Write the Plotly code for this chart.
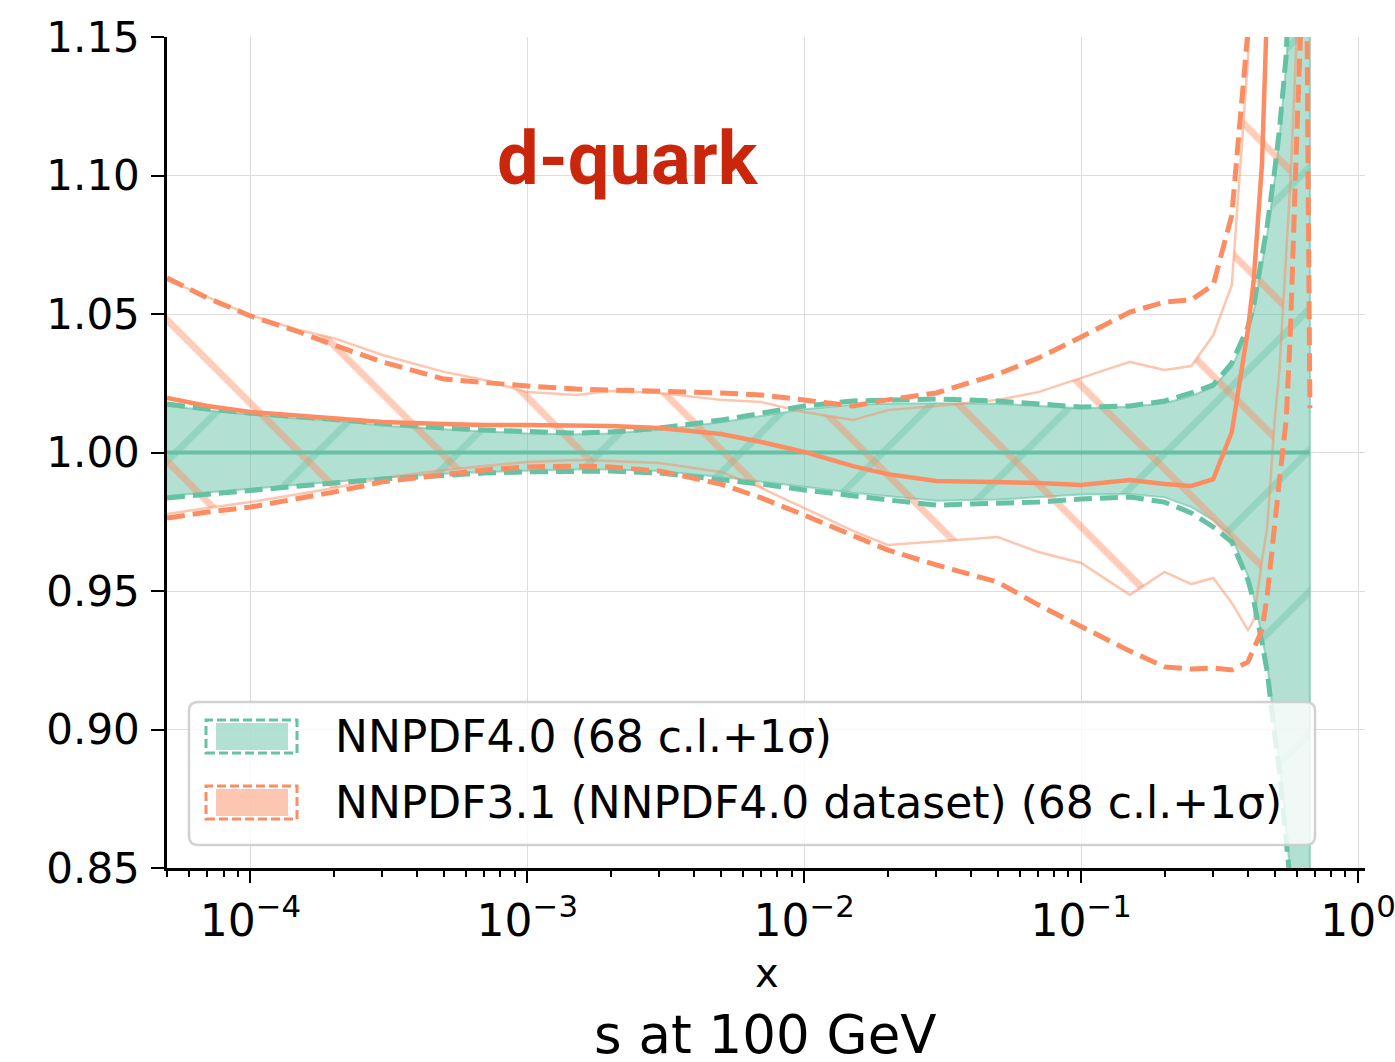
import math
import plotly.graph_objects as go

# ---------------- data ----------------
x = [5e-5, 7e-5, 1e-4, 1.5e-4, 2e-4, 3e-4, 5e-4, 7e-4, 1e-3, 1.5e-3, 2e-3, 3e-3, 5e-3, 7e-3,
     1e-2, 1.5e-2, 2e-2, 3e-2, 5e-2, 7e-2, 0.1, 0.15, 0.2, 0.25, 0.3, 0.35, 0.4, 0.42, 0.45,
     0.47, 0.5, 0.52, 0.55, 0.57, 0.6, 0.62, 0.65, 0.66, 0.67]

nn40_cv_x = [5e-5, 0.67]
nn40_cv = [1.0, 1.0]

nn40_1s_up = [1.0175, 1.0157, 1.0143, 1.0128, 1.0121, 1.0103, 1.0088, 1.0081, 1.0074, 1.0070, 1.0074,
              1.0088, 1.0117, 1.0143, 1.0168, 1.0186, 1.0190, 1.0193, 1.0186, 1.0175, 1.0164, 1.0168,
              1.0186, 1.0215, 1.0244, 1.0323, 1.0453, 1.0532, 1.0702, 1.0821, 1.1020, 1.1164, 1.1435,
              1.17, 1.22, 1.27, 1.35, 1.38, 1.40]
nn40_1s_dn = [0.9836, 0.9850, 0.9865, 0.9879, 0.9890, 0.9904, 0.9919, 0.9926, 0.9930, 0.9933, 0.9933,
              0.9926, 0.9904, 0.9886, 0.9865, 0.9843, 0.9829, 0.9810, 0.9814, 0.9821, 0.9832, 0.9839,
              0.9821, 0.9782, 0.9731, 0.9677, 0.9540, 0.9464, 0.9312, 0.9208, 0.8980, 0.8854, 0.8601,
              0.8457, 0.83, 0.815, 0.79, 0.78, 0.77]
nn40_cl_up = [1.0168, 1.0152, 1.0136, 1.0122, 1.0116, 1.0097, 1.0083, 1.0076, 1.0069, 1.0066, 1.0069,
              1.0082, 1.0109, 1.0133, 1.0156, 1.0172, 1.0176, 1.0178, 1.0176, 1.0168, 1.0160, 1.0165,
              1.0178, 1.0204, 1.0236, 1.0309, 1.0435, 1.0510, 1.0675, 1.0790, 1.0985, 1.1130, 1.1400,
              1.165, 1.215, 1.26, 1.34, 1.37, 1.39]
nn40_cl_dn = [0.9843, 0.9856, 0.9871, 0.9884, 0.9894, 0.9909, 0.9923, 0.9930, 0.9935, 0.9939, 0.9939,
              0.9933, 0.9912, 0.9895, 0.9876, 0.9855, 0.9842, 0.9826, 0.9830, 0.9838, 0.9848, 0.9850,
              0.9838, 0.9803, 0.9756, 0.9695, 0.9555, 0.9480, 0.9335, 0.9235, 0.9010, 0.8885, 0.8630,
              0.848, 0.832, 0.817, 0.792, 0.782, 0.772]

nn31_cv = [1.0197, 1.0168, 1.0146, 1.0132, 1.0121, 1.0110, 1.0103, 1.0099, 1.0099, 1.0097, 1.0096,
           1.0088, 1.0067, 1.0038, 1.0002, 0.9951, 0.9922, 0.9897, 0.9894, 0.9890, 0.9883, 0.9901,
           0.9886, 0.9879, 0.9904, 1.0074, 1.0442, 1.0623, 1.1045, 1.1490, 1.25, 1.30, 1.40,
           1.45, 1.50, 1.55, 1.60, 1.60, 1.60]
nn31_1s_up = [1.0630, 1.0558, 1.0493, 1.0435, 1.0388, 1.0327, 1.0265, 1.0251, 1.0240, 1.0229, 1.0226,
              1.0218, 1.0215, 1.0208, 1.0190, 1.0168, 1.0190, 1.0215, 1.0283, 1.0341, 1.0417, 1.0507,
              1.0543, 1.0551, 1.0605, 1.0857, 1.1520, 1.20, 1.30, 1.35, 1.45, 1.50, 1.55,
              1.55, 1.50, 1.40, 1.20, 1.10, 1.016]
nn31_1s_dn = [0.9763, 0.9785, 0.9803, 0.9832, 0.9857, 0.9894, 0.9922, 0.9937, 0.9948, 0.9951, 0.9948,
              0.9933, 0.9886, 0.9836, 0.9774, 0.9699, 0.9648, 0.9594, 0.9532, 0.9450, 0.9370, 0.9283,
              0.9226, 0.9218, 0.9222, 0.9215, 0.9244, 0.9294, 0.9359, 0.9486, 0.9756, 0.9900, 1.0117,
              1.0442, 1.1128, 1.1520, 1.30, 1.35, 1.40]
nn31_cl_up = [1.0623, 1.0561, 1.0496, 1.0442, 1.0413, 1.0352, 1.0291, 1.0262, 1.0218, 1.0208, 1.0222,
              1.0215, 1.0190, 1.0182, 1.0146, 1.0117, 1.0153, 1.0168, 1.0190, 1.0218, 1.0269, 1.0327,
              1.0298, 1.0312, 1.0424, 1.0605, 1.1417, 1.19, 1.28, 1.33, 1.40, 1.45, 1.50,
              1.50, 1.45, 1.40, 1.30, 1.25, 1.20]
nn31_cl_dn = [0.9778, 0.9800, 0.9821, 0.9850, 0.9872, 0.9908, 0.9937, 0.9951, 0.9966, 0.9973, 0.9969,
              0.9962, 0.9930, 0.9872, 0.9800, 0.9717, 0.9666, 0.9680, 0.9695, 0.9641, 0.9601, 0.9486,
              0.9569, 0.9525, 0.9547, 0.9457, 0.9359, 0.9395, 0.9612, 0.9731, 1.0117, 1.0298, 1.0731,
              1.0984, 1.15, 1.20, 1.30, 1.32, 1.35]

x_tickvals = [1e-4, 1e-3, 1e-2, 1e-1, 1e0]
x_ticktext = ["10<sup>\u22124</sup>", "10<sup>\u22123</sup>", "10<sup>\u22122</sup>",
              "10<sup>\u22121</sup>", "10<sup>0</sup>"]
x_minor = [m * 10.0 ** e for e in range(-5, 0) for m in range(2, 10)]
y_tickvals = [0.85, 0.90, 0.95, 1.00, 1.05, 1.10, 1.15]

labels = ["NNPDF4.0 (68 c.l.+1\u03c3)", "NNPDF3.1 (NNPDF4.0 dataset) (68 c.l.+1\u03c3)"]
title_text = "d-quark"

# ---------------- style ----------------
TEAL = "#66c2a5"
ORANGE = "#fc8d62"
W, H = 1395, 1062
L, R, T, B = 167, 1365, 37, 868
FONT = "DejaVu Sans"


def px(xp):
    return (xp - L) / (R - L)


def py(yp):
    return (B - yp) / (B - T)


fig = go.Figure()

# NNPDF4.0 68 c.l. band (filled + hatched)
fig.add_trace(go.Scatter(
    x=x + x[::-1], y=nn40_cl_up + nn40_cl_dn[::-1], mode="lines", fill="toself",
    fillcolor="rgba(102,194,165,0.5)",
    fillpattern=dict(shape="/", size=100, solidity=0.07, fgcolor=TEAL, fgopacity=0.4,
                     bgcolor="rgba(102,194,165,0.5)"),
    line=dict(color="rgba(102,194,165,0.6)", width=2), hoverinfo="skip"))

# NNPDF3.1 68 c.l. band (hatched only)
fig.add_trace(go.Scatter(
    x=x + x[::-1], y=nn31_cl_up + nn31_cl_dn[::-1], mode="lines", fill="toself",
    fillcolor="rgba(0,0,0,0)",
    fillpattern=dict(shape="\\", size=100, solidity=0.07, fgcolor=ORANGE, fgopacity=0.45,
                     bgcolor="rgba(0,0,0,0)"),
    line=dict(color="rgba(252,141,98,0.5)", width=2.5), hoverinfo="skip"))

# central values
fig.add_trace(go.Scatter(x=nn40_cv_x, y=nn40_cv, mode="lines", line=dict(color=TEAL, width=4)))

# 1 sigma dashed lines
for yy in (nn40_1s_up, nn40_1s_dn):
    fig.add_trace(go.Scatter(x=x, y=yy, mode="lines",
                             line=dict(color=TEAL, width=5, dash="18px,8px")))

fig.add_trace(go.Scatter(x=x, y=nn31_cv, mode="lines", line=dict(color=ORANGE, width=4.5)))
for yy in (nn31_1s_up, nn31_1s_dn):
    fig.add_trace(go.Scatter(x=x, y=yy, mode="lines",
                             line=dict(color=ORANGE, width=5, dash="18px,8px")))

# ---------------- legend (drawn by hand) ----------------
shapes = []
lx0, lx1, ly0, ly1, rad = 189, 1315, 702, 845, 9
rx, ry = rad / (R - L), rad / (B - T)
X0, X1, Y0, Y1 = px(lx0), px(lx1), py(ly1), py(ly0)
path = (f"M{X0 + rx},{Y0} L{X1 - rx},{Y0} Q{X1},{Y0} {X1},{Y0 + ry} "
        f"L{X1},{Y1 - ry} Q{X1},{Y1} {X1 - rx},{Y1} L{X0 + rx},{Y1} "
        f"Q{X0},{Y1} {X0},{Y1 - ry} L{X0},{Y0 + ry} Q{X0},{Y0} {X0 + rx},{Y0} Z")
shapes.append(dict(type="path", path=path, xref="paper", yref="paper", layer="above",
                   fillcolor="rgba(255,255,255,0.8)",
                   line=dict(color="rgba(204,204,204,0.9)", width=2.5)))

patch_rows = [(720, 753, TEAL, "rgba(102,194,165,0.5)"), (786, 819, ORANGE, "rgba(252,141,98,0.5)")]
for (t, b, c, fc) in patch_rows:
    shapes.append(dict(type="rect", xref="paper", yref="paper", layer="above",
                       x0=px(216), x1=px(288), y0=py(b - 3), y1=py(t + 3),
                       fillcolor=fc, line=dict(width=0)))
    shapes.append(dict(type="rect", xref="paper", yref="paper", layer="above",
                       x0=px(206), x1=px(297), y0=py(b), y1=py(t),
                       fillcolor="rgba(0,0,0,0)", line=dict(color=c, width=3, dash="9px,4px")))

annotations = []
for lab, yc in zip(labels, (736, 802)):
    annotations.append(dict(text=lab, x=px(333), y=py(yc), xref="paper", yref="paper",
                            xanchor="left", yanchor="middle", showarrow=False,
                            font=dict(family=FONT, size=44, color="black")))

annotations.append(dict(text="<b>" + title_text + "</b>", x=px(628), y=py(158), xref="paper",
                        yref="paper", xanchor="center", yanchor="middle", showarrow=False,
                        font=dict(family="Roboto", size=74, color="#c9260b")))
annotations.append(dict(text="x", x=px(767), y=py(973), xref="paper", yref="paper",
                        xanchor="center", yanchor="middle", showarrow=False,
                        font=dict(family=FONT, size=40, color="black")))
annotations.append(dict(text="s at 100 GeV", x=px(765), y=py(1034), xref="paper", yref="paper",
                        xanchor="center", yanchor="middle", showarrow=False,
                        font=dict(family=FONT, size=53, color="black")))

fig.update_layout(
    width=W, height=H,
    margin=dict(l=L, r=W - R, t=T, b=H - B, pad=0, autoexpand=False),
    paper_bgcolor="white", plot_bgcolor="white",
    showlegend=False,
    shapes=shapes, annotations=annotations,
    xaxis=dict(type="log", range=[math.log10(5e-5), 0.025], automargin=False,
               tickmode="array", tickvals=x_tickvals, ticktext=x_ticktext,
               ticks="outside", ticklen=12, tickwidth=2, tickcolor="black",
               showline=True, linecolor="black", linewidth=2.5,
               showgrid=True, gridcolor="#dddddd", gridwidth=1.2, zeroline=False,
               ticklabeloverflow="allow",
               tickfont=dict(family=FONT, size=44, color="black"),
               minor=dict(tickmode="array", tickvals=x_minor, ticks="outside", ticklen=6,
                          tickwidth=1.5, tickcolor="black", showgrid=False)),
    yaxis=dict(range=[0.85, 1.15], tickmode="array", tickvals=y_tickvals, tickformat=".2f",
               automargin=False,
               ticks="outside", ticklen=13, tickwidth=2, tickcolor="black",
               showline=True, linecolor="black", linewidth=2.5,
               showgrid=True, gridcolor="#dddddd", gridwidth=1.2, zeroline=False,
               ticklabelstandoff=3,
               tickfont=dict(family=FONT, size=42, color="black")),
)

fig.write_html("out.html")
